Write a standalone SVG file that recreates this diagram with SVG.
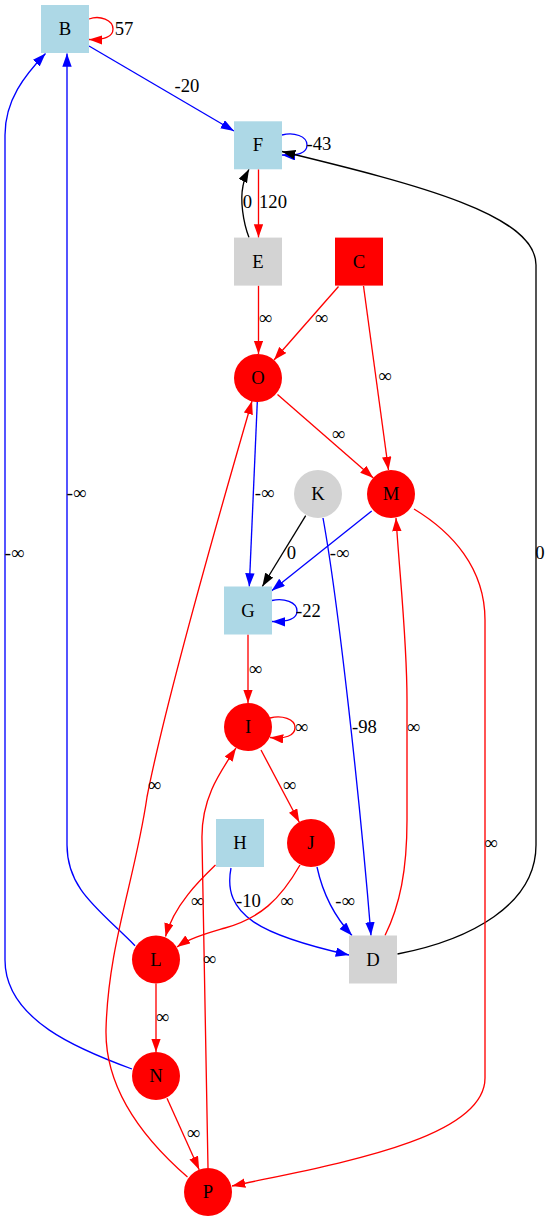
<svg xmlns="http://www.w3.org/2000/svg" width="551" height="1221" viewBox="0 0 551 1221">
<style>
text{font-family:"Liberation Serif","Times New Roman",serif;font-size:18.67px;fill:#000;text-anchor:middle}
.box{stroke:none}
.lb{fill:#add8e6}.gr{fill:#d3d3d3}.rd{fill:#ff0000}
.e{fill:none;stroke-width:1.33}
.r{stroke:#ff0000}.b{stroke:#0000ff}.k{stroke:#000000}
</style>
<defs>
<marker id="ar" markerUnits="userSpaceOnUse" markerWidth="14" markerHeight="10" refX="13.3" refY="4.7" orient="auto"><path d="M0,0 L13.3,4.7 L0,9.4 Z" fill="#ff0000"/></marker>
<marker id="ab" markerUnits="userSpaceOnUse" markerWidth="14" markerHeight="10" refX="13.3" refY="4.7" orient="auto"><path d="M0,0 L13.3,4.7 L0,9.4 Z" fill="#0000ff"/></marker>
<marker id="ak" markerUnits="userSpaceOnUse" markerWidth="14" markerHeight="10" refX="13.3" refY="4.7" orient="auto"><path d="M0,0 L13.3,4.7 L0,9.4 Z" fill="#000000"/></marker>
</defs>
<rect width="551" height="1221" fill="#fff"/>
<g id="edges">
<path class="e r" marker-end="url(#ar)" d="M89,19 C100,15 113,20 113,29 C113,37 104,40 89,39.5"/><text x="124" y="35">57</text>
<path class="e b" marker-end="url(#ab)" d="M89,46 L234,131"/><text x="187" y="92">-20</text>
<path class="e b" marker-end="url(#ab)" d="M282,135 C294,132 307,136 307,145 C307,153 298,156 282,155"/><text x="319" y="150">-43</text>
<path class="e r" marker-end="url(#ar)" d="M258.5,169.3 L258.5,237.6"/><text x="273" y="208">120</text>
<path class="e k" marker-end="url(#ak)" d="M249,237.6 C243,222 240,200 243,186 C244,180 246,175 249,169.3"/><text x="247.5" y="208">0</text>
<path class="e k" marker-end="url(#ak)" d="M397.5,954 C470,940 536,905 536,845 L536,265 C536,215 420,185 282,151.5"/><text x="540" y="559">0</text>
<path class="e r" marker-end="url(#ar)" d="M258.5,285.6 L258.5,354"/><text x="265.5" y="324">∞</text>
<path class="e r" marker-end="url(#ar)" d="M338.5,286.5 L274,360"/><text x="321.5" y="324">∞</text>
<path class="e r" marker-end="url(#ar)" d="M363.5,286 L388.5,470"/><text x="385" y="382">∞</text>
<path class="e r" marker-end="url(#ar)" d="M277.5,394.5 L373.3,478"/><text x="338.5" y="440">∞</text>
<path class="e b" marker-end="url(#ab)" d="M257.3,401.7 L249.3,586.5"/><text x="264.5" y="499">-∞</text>
<path class="e k" marker-end="url(#ak)" d="M305.7,515.7 L262.3,586.5"/><text x="291.5" y="559">0</text>
<path class="e b" marker-end="url(#ab)" d="M371.7,511 L271.7,590.7"/><text x="339.5" y="559">-∞</text>
<path class="e b" marker-end="url(#ab)" d="M323,518 C338,600 360,800 371,935.5"/><text x="364.5" y="733">-98</text>
<path class="e b" marker-end="url(#ab)" d="M272,600.5 C284,598 297,602 297,611 C297,619 288,622 272,621.5"/><text x="308.5" y="617">-22</text>
<path class="e r" marker-end="url(#ar)" d="M248,634.5 L248,703"/><text x="255.5" y="675">∞</text>
<path class="e r" marker-end="url(#ar)" d="M270,718 C282,715 295,719 295,727.5 C295,736 285,739 270,737.5"/><text x="301.5" y="733">∞</text>
<path class="e r" marker-end="url(#ar)" d="M261,750 L299.3,822.3"/><text x="289.5" y="791">∞</text>
<path class="e r" marker-end="url(#ar)" d="M414,509 C452,532 485,568 485,620 L485,1078 C485,1140 330,1165 232,1186"/><text x="491" y="849">∞</text>
<path class="e r" marker-end="url(#ar)" d="M385,935.5 C400,905 407,870 407,820 L407,700 C407,640 400,580 396,518"/><text x="413.5" y="733">∞</text>
<path class="e r" marker-end="url(#ar)" d="M215.5,865 C200,880 174,905 165.5,936.5"/><text x="197.5" y="907">∞</text>
<path class="e b" marker-end="url(#ab)" d="M231,868 C222,915 260,935 349,955"/><text x="248.5" y="907">-10</text>
<path class="e r" marker-end="url(#ar)" d="M300,865 C280,900 260,918 225,928 C205,934 190,938 177,947"/><text x="287" y="907">∞</text>
<path class="e b" marker-end="url(#ab)" d="M317,867 C322,890 333,915 352,935.5"/><text x="345" y="907">-∞</text>
<path class="e b" marker-end="url(#ab)" d="M135,945.7 C100,910 67,890 67,845 L67,53.5"/><text x="76.5" y="499">-∞</text>
<path class="e b" marker-end="url(#ab)" d="M132,1069 C80,1050 5,1020 5,960 L5,135 C5,100 25,75 45.5,53.5"/><text x="14.5" y="559">-∞</text>
<path class="e r" marker-end="url(#ar)" d="M156,983.5 L156,1052"/><text x="162.5" y="1023">∞</text>
<path class="e r" marker-end="url(#ar)" d="M167,1098.3 L199.2,1169.7"/><text x="193.5" y="1139">∞</text>
<path class="e r" marker-end="url(#ar)" d="M187.5,1177 C145,1140 105,1090 106,1030 C108,945 135,880 147,797 C160,730 200,580 252,401"/><text x="154.5" y="791">∞</text>
<path class="e r" marker-end="url(#ar)" d="M208,1168 L202,840 C201,800 218,775 236,748"/><text x="209.5" y="965">∞</text>
</g>
<g id="node-B"><rect class="box lb" x="41" y="5" width="48" height="48"/><text x="65" y="35">B</text></g>
<g id="node-F"><rect class="box lb" x="234" y="121.3" width="48" height="48"/><text x="258" y="151.3">F</text></g>
<g id="node-E"><rect class="box gr" x="234" y="237.6" width="48" height="48"/><text x="258" y="267.6">E</text></g>
<g id="node-C"><rect class="box rd" x="335" y="237.6" width="48" height="48"/><text x="359" y="267.6">C</text></g>
<g id="node-O"><circle class="rd" cx="258" cy="378" r="24"/><text x="258" y="384">O</text></g>
<g id="node-K"><circle class="gr" cx="318" cy="494" r="24"/><text x="318" y="500">K</text></g>
<g id="node-M"><circle class="rd" cx="391" cy="494" r="24"/><text x="391" y="500">M</text></g>
<g id="node-G"><rect class="box lb" x="224" y="586.5" width="48" height="48"/><text x="248" y="616.5">G</text></g>
<g id="node-I"><circle class="rd" cx="248" cy="727" r="24"/><text x="248" y="733">I</text></g>
<g id="node-H"><rect class="box lb" x="216" y="819" width="48" height="48"/><text x="240" y="849">H</text></g>
<g id="node-J"><circle class="rd" cx="311" cy="843" r="24"/><text x="311" y="849">J</text></g>
<g id="node-L"><circle class="rd" cx="156" cy="959.5" r="24"/><text x="156" y="965.5">L</text></g>
<g id="node-D"><rect class="box gr" x="349" y="935.5" width="48" height="48"/><text x="373" y="965.5">D</text></g>
<g id="node-N"><circle class="rd" cx="156" cy="1076" r="24"/><text x="156" y="1082">N</text></g>
<g id="node-P"><circle class="rd" cx="208" cy="1192" r="24"/><text x="208" y="1198">P</text></g>
</svg>
